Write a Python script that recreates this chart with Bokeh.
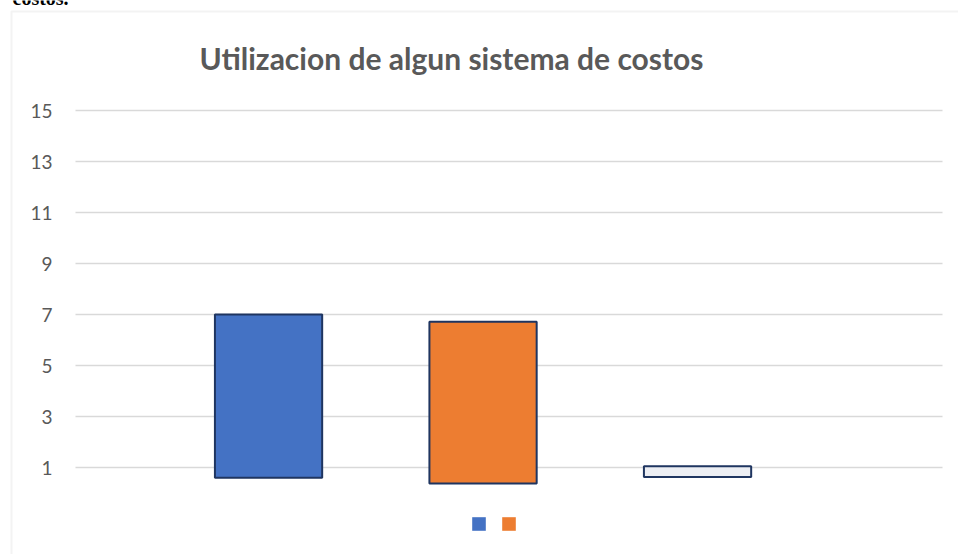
from bokeh.plotting import figure
from bokeh.models import Range1d, Label, Legend, LegendItem, BoxAnnotation, ColumnDataSource
from bokeh.embed import file_html
from bokeh.resources import INLINE
from bokeh.core.properties import value

# ---- data ----
title_text = "Utilizacion de algun sistema de costos"
caption_text = "costos."
positions = [1, 2, 3]
bar_bottoms = [0.6, 0.37, 0.63]
bar_tops = [7.0, 6.72, 1.05]
bar_colors = ["#4472c4", "#ed7d31", "#eceef3"]
y_ticks = [1, 3, 5, 7, 9, 11, 13, 15]
y_tick_labels = ["1", "3", "5", "7", "9", "11", "13", "15"]
legend_colors = ["#4472c4", "#ed7d31"]

# ---- layout (pixels) ----
W, H = 958, 554
PX_X0, PX_PER_X, X0 = 75.0, 214.5, 0.1      # pixel of x=X0 and px per unit
PX_Y0, PX_PER_Y = 492.5, 25.5                # pixel of y=0 and px per unit

def x_at(px):
    return X0 + (px - PX_X0) / PX_PER_X

def y_at(py):
    return (PX_Y0 - py) / PX_PER_Y

p = figure(width=W, height=H, output_backend="svg", toolbar_location=None,
           x_range=Range1d(x_at(0), x_at(W)), y_range=Range1d(y_at(H), y_at(0)),
           x_axis_type=None, y_axis_type=None,
           min_border=0, min_border_left=0, min_border_right=0,
           min_border_top=0, min_border_bottom=0)
p.outline_line_color = None
p.background_fill_color = "white"
p.border_fill_color = "white"
p.grid.visible = False

# chart-area border
p.add_layout(BoxAnnotation(left=x_at(11), right=x_at(W + 20), top=y_at(11), bottom=y_at(H + 20),
                           fill_alpha=0, line_color="#d6d6d6", line_width=2, level="underlay"))

# horizontal gridlines at the value ticks
p.segment(x0=x_at(75), x1=x_at(942), y0=y_ticks, y1=y_ticks,
          line_color="#d9d9d9", line_width=1.3)

# value tick labels
p.text(x=x_at(52), y=y_ticks, text=y_tick_labels, text_align="right", text_baseline="middle",
       text_font=value("Lato"), text_font_size="19px", text_color="#595959")

src = ColumnDataSource(dict(x=positions, bottom=bar_bottoms, top=bar_tops, color=bar_colors))
p.vbar(x="x", bottom="bottom", top="top", width=0.5, fill_color="color",
       line_color="#1f3560", line_width=2, source=src)

p.add_layout(Label(x=x_at(451), y=y_at(57), text=title_text, text_font="Lato", text_font_style="bold",
                   text_font_size="30px", text_color="#595959", text_align="center",
                   text_baseline="alphabetic"))
p.add_layout(Label(x=x_at(12), y=y_at(-3), text=caption_text, text_font="Liberation Serif",
                   text_font_style="bold", text_font_size="20px", text_color="black",
                   text_align="left", text_baseline="alphabetic"))

# legend swatches (renderers kept far outside the visible ranges)
items = []
for c in legend_colors:
    r = p.vbar(x=[-1000], bottom=[-1000], top=[-999], width=0.5, fill_color=c, line_alpha=0)
    items.append(LegendItem(label=" ", renderers=[r]))
legend = Legend(items=items, orientation="horizontal", location=(469.5, H - 531.5),
                glyph_width=17, glyph_height=17, label_standoff=0, label_width=1,
                label_text_font_size="6px", spacing=12, padding=0, margin=0,
                border_line_alpha=0, background_fill_alpha=0)
p.add_layout(legend, "center")

open("out.html", "w").write(file_html(p, INLINE))
